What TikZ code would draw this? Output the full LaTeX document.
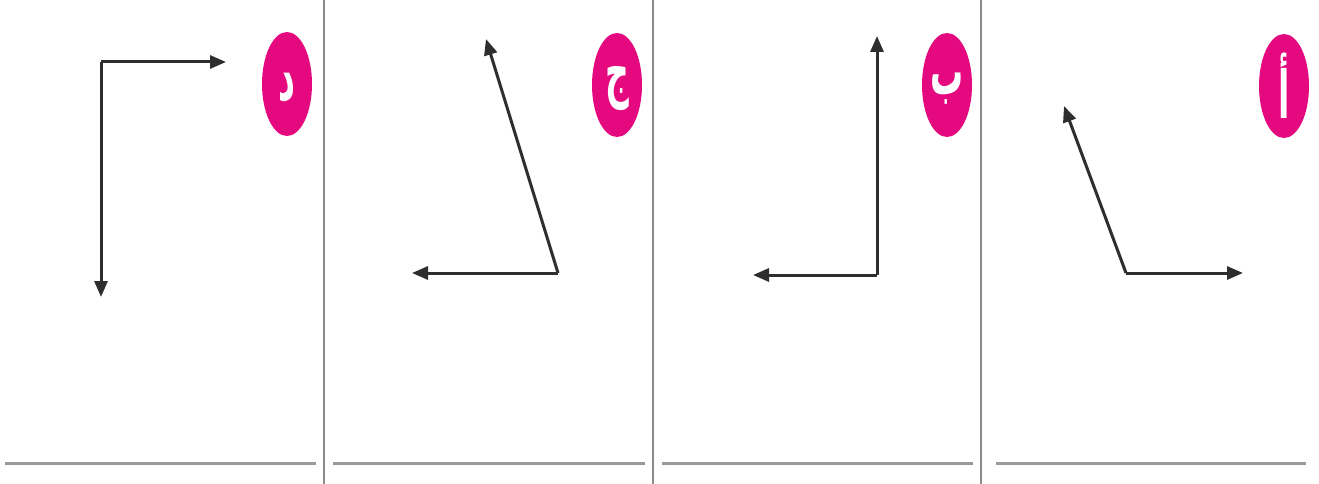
\documentclass[tikz,border=0pt]{standalone}
\usepackage{fontspec}
\usetikzlibrary{arrows.meta,shapes.geometric}
\newfontfamily\arabicfont[Script=Arabic]{DejaVu Sans}
\TeXXeTstate=1
\definecolor{pinkmag}{HTML}{E5097F}
\definecolor{arrowgray}{HTML}{2E2E2E}
\definecolor{rulegray}{HTML}{9A9A9A}
\definecolor{sepgray}{HTML}{8C8C8C}
\tikzset{
  vec/.style={draw=arrowgray, line width=3pt, -{Triangle[length=16pt,width=13pt]}},
  badge/.style={ellipse, fill=pinkmag, minimum width=50pt, minimum height=104pt, inner sep=0pt},
  badgetext/.style={inner sep=0pt, text=white, font=\arabicfont\bfseries\fontsize{66}{66}\selectfont},
  baseline rule/.style={draw=rulegray, line width=3pt},
  sep/.style={draw=sepgray, line width=1.6pt}
}
\newcommand{\arlet}[1]{\scalebox{0.5}[1]{\beginR #1\endR}}
\begin{document}
\begin{tikzpicture}[x=1pt,y=-1pt]
\useasboundingbox (0,0) rectangle (1319,484);
\fill[white] (0,0) rectangle (1319,484);
% separators
\coordinate (s1t) at (324,0); \coordinate (s1b) at (324,484);
\coordinate (s2t) at (653,0); \coordinate (s2b) at (653,484);
\coordinate (s3t) at (981,0); \coordinate (s3b) at (981,484);
\draw[sep] (s1t) -- (s1b);
\draw[sep] (s2t) -- (s2b);
\draw[sep] (s3t) -- (s3b);
% baseline rules
\coordinate (r1a) at (5,463); \coordinate (r1b) at (316,463);
\coordinate (r2a) at (333,463); \coordinate (r2b) at (645,463);
\coordinate (r3a) at (662,463); \coordinate (r3b) at (973,463);
\coordinate (r4a) at (996,463); \coordinate (r4b) at (1306,463);
\draw[baseline rule] (r1a) -- (r1b);
\draw[baseline rule] (r2a) -- (r2b);
\draw[baseline rule] (r3a) -- (r3b);
\draw[baseline rule] (r4a) -- (r4b);
% badges
\node[badge] (Ld) at (287,84) {};
\node[badge] (Lj) at (617,85) {};
\node[badge] (Lb) at (947,85) {};
\node[badge] (La) at (1284,86) {};
\node[badgetext] (Tdl) at ([yshift=-4pt]Ld.center) {\arlet{د}};
\node[badgetext] (Tjm) at ([yshift=-4pt]Lj.center) {\arlet{ج}};
\node[badgetext] (Tba) at ([yshift=-4pt]Lb.center) {\arlet{ب}};
\node[badgetext] (Tal) at (La.center) {\arlet{أ}};
% panel d
\coordinate (dC) at (101,62);
\coordinate (dR) at (226,62);
\coordinate (dD) at (101,297);
\draw[vec] (dC) -- (dR);
\draw[vec] (dC) -- (dD);
% panel j
\coordinate (jC) at (558,273);
\coordinate (jU) at (486,39);
\coordinate (jL) at (412,273);
\draw[vec] (jC) -- (jU);
\draw[vec] (jC) -- (jL);
% panel b
\coordinate (bC) at (877,275);
\coordinate (bU) at (877,36);
\coordinate (bL) at (753,275);
\draw[vec] (bC) -- (bU);
\draw[vec] (bC) -- (bL);
% panel a
\coordinate (aC) at (1126,273);
\coordinate (aR) at (1243,273);
\coordinate (aU) at (1064,106);
\draw[vec] (aC) -- (aR);
\draw[vec] (aC) -- (aU);
\end{tikzpicture}
\end{document}
